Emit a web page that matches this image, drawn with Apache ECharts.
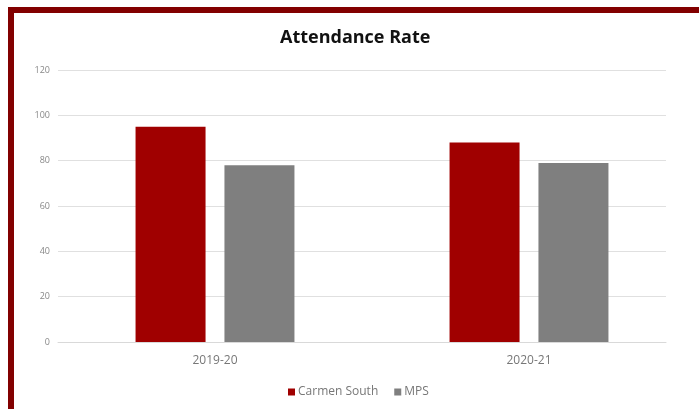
<!DOCTYPE html>
<html><head><meta charset="utf-8">
<script src="https://cdn.jsdelivr.net/npm/echarts@6/dist/echarts.min.js"></script>
<style>
html,body{margin:0;padding:0;background:#fff;overflow:hidden;}
#frame{position:absolute;left:8px;top:7px;width:720px;height:430px;border-top:6px solid #820000;border-left:6px solid #820000;box-sizing:border-box;}
#c{position:absolute;left:0;top:0;width:699px;height:409px;}
</style></head>
<body>
<div id="frame"></div>
<div id="c"></div>
<script>
const categories = ['2019-20', '2020-21'];
const carmenSouth = [95, 88];
const mps = [78, 79];
const yTicks = [0, 20, 40, 60, 80, 100, 120];

const chart = echarts.init(document.getElementById('c'));
chart.setOption({
  animation: false,
  title: {
    text: 'Attendance Rate', left: 275, top: 24,
    textStyle: {fontFamily: 'Open Sans', fontWeight: 'bold', fontSize: 18, color: '#111'}
  },
  legend: {
    bottom: 6, left: 283, itemWidth: 7, itemHeight: 7, itemGap: 16,
    icon: 'rect',
    textStyle: {fontFamily: 'Open Sans', fontSize: 12, color: '#777', padding: [0,0,0,-2]},
    data: ['Carmen South', 'MPS']
  },
  grid: [
    {left: 58, right: 13, top: 70, bottom: 67},
    {left: 58, right: 33, top: 70, bottom: 67}
  ],
  xAxis: [
    {type: 'category', gridIndex: 0, data: categories,
     axisLine: {show: false}, axisTick: {show: false},
     axisLabel: {fontFamily: 'Open Sans', fontSize: 12, color: '#777', margin: 13}},
    {type: 'category', gridIndex: 1, data: categories, show: true,
     axisLine: {show: true, lineStyle: {color: '#d9d9d9'}}, axisTick: {show: false},
     axisLabel: {show: false}}
  ],
  yAxis: [
    {type: 'value', gridIndex: 0, min: yTicks[0], max: yTicks[yTicks.length-1], interval: 20, show: false},
    {type: 'value', gridIndex: 1, min: yTicks[0], max: yTicks[yTicks.length-1], interval: 20,
     axisLine: {show: false}, axisTick: {show: false},
     axisLabel: {fontFamily: 'Open Sans', fontSize: 9, color: '#888', margin: 8},
     splitLine: {lineStyle: {color: '#e0e0e0', width: 1}}}
  ],
  series: [
    {name: 'Carmen South', type: 'bar', xAxisIndex: 0, yAxisIndex: 0, data: carmenSouth,
     barWidth: 70, barGap: '27%', itemStyle: {color: '#A00000'}, z: 3},
    {name: 'MPS', type: 'bar', xAxisIndex: 0, yAxisIndex: 0, data: mps,
     barWidth: 70, itemStyle: {color: '#7F7F7F'}, z: 3}
  ]
});
</script>
</body></html>
